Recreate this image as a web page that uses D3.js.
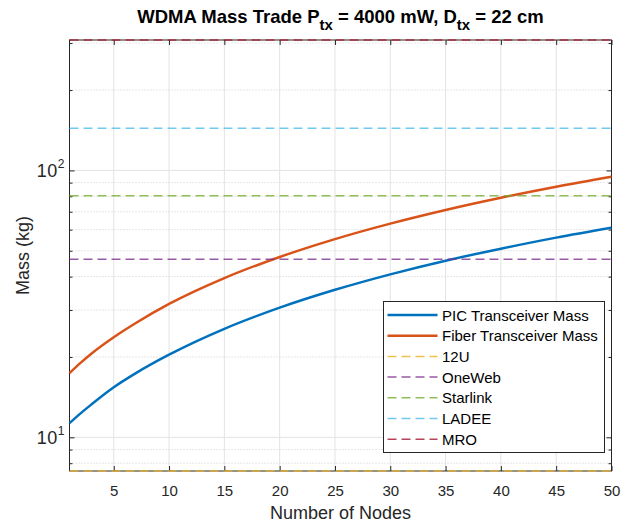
<!DOCTYPE html>
<html>
<head>
<meta charset="utf-8">
<script src="https://cdn.jsdelivr.net/npm/d3@7"></script>
<style>
  body { margin: 0; background: #fff; }
  svg { font-family: Arial, "Liberation Sans", Helvetica, sans-serif; }
</style>
</head>
<body>
<svg width="624" height="525"></svg>
<script>
// values
var nodes = [1, 2, 3, 5, 7, 10, 15, 20, 25, 30, 35, 40, 45, 50];
var picMass = [11.3, 12.3, 13.3, 15.4, 17.4, 20.4, 25.5, 30.6, 35.7, 40.8, 45.9, 50.9, 56.0, 61.0];
var fiberMass = [17.4, 19.0, 20.6, 23.7, 26.8, 31.6, 39.5, 47.4, 55.3, 63.2, 71.1, 79.0, 86.9, 94.7];

var refNames = ["12U", "OneWeb", "Starlink", "LADEE", "MRO"];
var refMass = [7.48, 46.5, 80.3, 144, 308];
var refColors = ["#EDB120", "#7E2F8E", "#77AC30", "#4DBEEE", "#A2142F"];

var xTicks = [5, 10, 15, 20, 25, 30, 35, 40, 45, 50];
var yMajor = [10, 100];
var yMinor = [8, 9, 20, 30, 40, 50, 60, 70, 80, 90, 200, 300];

var svg = d3.select("svg"),
    margin = {top: 40, right: 12.5, bottom: 54, left: 69.5},
    width = +svg.attr("width") - margin.left - margin.right,
    height = +svg.attr("height") - margin.top - margin.bottom,
    g = svg.append("g").attr("transform", "translate(" + margin.left + "," + margin.top + ")");

var axisColor = "#262626";

var x = d3.scaleLinear().domain([1, 50]).range([0, width]);
var y = d3.scaleLog().domain([refMass[0], refMass[4]]).range([height, 0]);

// grid
g.selectAll(".gx").data(xTicks).enter().append("line")
    .attr("x1", d => x(d)).attr("x2", d => x(d))
    .attr("y1", 0).attr("y2", height)
    .attr("stroke", "#e3e3e3").attr("stroke-width", 1);
g.selectAll(".gy").data(yMajor).enter().append("line")
    .attr("x1", 0).attr("x2", width)
    .attr("y1", d => y(d)).attr("y2", d => y(d))
    .attr("stroke", "#e3e3e3").attr("stroke-width", 1);
g.selectAll(".gm").data(yMinor).enter().append("line")
    .attr("x1", 0).attr("x2", width)
    .attr("y1", d => y(d)).attr("y2", d => y(d))
    .attr("stroke", "#cfcfcf").attr("stroke-width", 1)
    .attr("stroke-dasharray", "1,2");

// axes (ticks pointing inward, box on)
function styleAxis(sel) {
  sel.select(".domain").remove();
  sel.selectAll("line").attr("stroke", axisColor);
  sel.selectAll("text").attr("fill", axisColor).style("font-size", "15px");
}

g.append("g")
    .attr("transform", "translate(0," + height + ")")
    .call(d3.axisBottom(x).tickValues(xTicks).tickSizeInner(-5).tickSizeOuter(0).tickPadding(14))
    .call(styleAxis);
g.append("g")
    .call(d3.axisTop(x).tickValues(xTicks).tickSizeInner(-5).tickSizeOuter(0).tickFormat(""))
    .call(styleAxis);
g.append("g")
    .call(d3.axisLeft(y).tickValues(yMajor).tickSizeInner(-5).tickSizeOuter(0).tickFormat(""))
    .call(styleAxis);
g.append("g")
    .call(d3.axisLeft(y).tickValues(yMinor).tickSizeInner(-3).tickSizeOuter(0).tickFormat(""))
    .call(styleAxis);
g.append("g")
    .attr("transform", "translate(" + width + ",0)")
    .call(d3.axisRight(y).tickValues(yMajor).tickSizeInner(-5).tickSizeOuter(0).tickFormat(""))
    .call(styleAxis);
g.append("g")
    .attr("transform", "translate(" + width + ",0)")
    .call(d3.axisRight(y).tickValues(yMinor).tickSizeInner(-3).tickSizeOuter(0).tickFormat(""))
    .call(styleAxis);

// y tick labels 10^n
g.selectAll(".ylab").data(yMajor).enter().append("text")
    .attr("x", -5).attr("y", d => y(d) + 7)
    .attr("text-anchor", "end")
    .attr("fill", axisColor)
    .each(function(d) {
      var t = d3.select(this);
      t.append("tspan").style("font-size", "18px").style("letter-spacing", "0.5px").text("10");
      t.append("tspan").style("font-size", "12px").attr("dy", -9).text(Math.round(Math.log10(d)));
    });

g.append("rect")
    .attr("width", width).attr("height", height)
    .attr("fill", "none").attr("stroke", axisColor).attr("stroke-width", 1);

// curves
var picData = nodes.map((n, i) => ({n: n, v: picMass[i]}));
var fiberData = nodes.map((n, i) => ({n: n, v: fiberMass[i]}));

var line = d3.line()
    .x(d => x(d.n))
    .y(d => y(d.v))
    .curve(d3.curveMonotoneX);

g.append("path").datum(picData)
    .attr("fill", "none").attr("stroke", "#0072BD").attr("stroke-width", 2.5)
    .attr("d", line);
g.append("path").datum(fiberData)
    .attr("fill", "none").attr("stroke", "#D95319").attr("stroke-width", 2.5)
    .attr("d", line);

// reference masses
g.selectAll(".ref").data(refMass).enter().append("line")
    .attr("x1", 0).attr("x2", width)
    .attr("y1", d => y(d)).attr("y2", d => y(d))
    .attr("stroke", (d, i) => refColors[i])
    .attr("stroke-width", 1.5)
    .attr("stroke-opacity", 0.8)
    .attr("stroke-dasharray", "9,5");

// title
var title = svg.append("text")
    .attr("x", margin.left + width / 2).attr("y", 23)
    .attr("text-anchor", "middle")
    .attr("fill", "#000")
    .style("font-size", "18.5px").style("font-weight", "bold");
title.append("tspan").text("WDMA Mass Trade P");
title.append("tspan").attr("dy", 7).style("font-size", "15px").text("tx");
title.append("tspan").attr("dy", -7).text(" = 4000 mW, D");
title.append("tspan").attr("dy", 7).style("font-size", "15px").text("tx");
title.append("tspan").attr("dy", -7).text(" = 22 cm");

// axis labels
svg.append("text")
    .attr("x", margin.left + width / 2).attr("y", 519)
    .attr("text-anchor", "middle").attr("fill", axisColor)
    .style("font-size", "18px")
    .text("Number of Nodes");
svg.append("text")
    .attr("transform", "translate(29," + (margin.top + height / 2) + ") rotate(-90)")
    .attr("text-anchor", "middle").attr("fill", axisColor)
    .style("font-size", "18px")
    .text("Mass (kg)");

// legend
var legNames = ["PIC Transceiver Mass", "Fiber Transceiver Mass"].concat(refNames);
var legColors = ["#0072BD", "#D95319"].concat(refColors);

var leg = svg.append("g").attr("transform", "translate(383.5,301.5)");
leg.append("rect")
    .attr("width", 221).attr("height", 151)
    .attr("fill", "#fff").attr("stroke", axisColor).attr("stroke-width", 1);

var item = leg.selectAll(".item").data(legNames).enter().append("g")
    .attr("transform", (d, i) => "translate(0," + (13.5 + i * 20.7) + ")");
item.append("line")
    .attr("x1", 4).attr("x2", 54)
    .attr("stroke", (d, i) => legColors[i])
    .attr("stroke-width", (d, i) => i < 2 ? 2.5 : 1.5)
    .attr("stroke-opacity", (d, i) => i < 2 ? 1 : 0.8)
    .attr("stroke-dasharray", (d, i) => i < 2 ? null : "9,5");
item.append("text")
    .attr("x", 58.5).attr("y", 5.5)
    .attr("fill", "#000")
    .style("font-size", "15px")
    .text(d => d);
</script>
</body>
</html>
